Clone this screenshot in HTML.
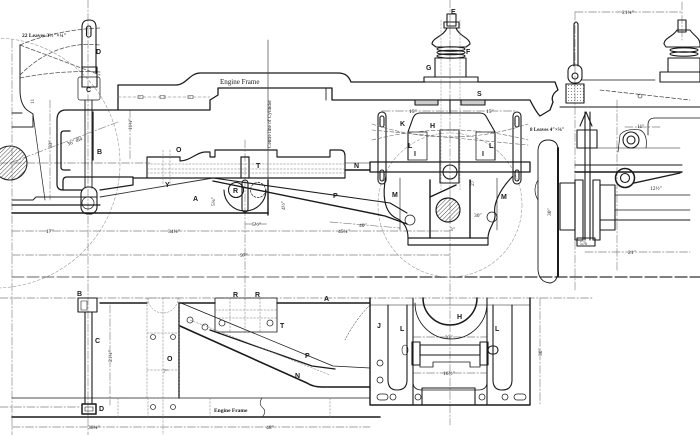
<!DOCTYPE html>
<html><head><meta charset="utf-8"><style>
html,body{margin:0;padding:0;background:#fff;}
svg{display:block}
text{font-family:"Liberation Serif",serif;fill:#1a1a1a;stroke:none}
.l{font-family:"Liberation Sans",sans-serif;font-weight:bold;font-size:7px}
.d{font-size:5.5px}
</style></head><body>
<svg width="700" height="435" viewBox="0 0 700 435" xmlns="http://www.w3.org/2000/svg">
<defs>
<pattern id="h" width="3" height="3" patternUnits="userSpaceOnUse" patternTransform="rotate(45)"><line x1="0" y1="0" x2="0" y2="3" stroke="#333" stroke-width="0.9"/></pattern>
<pattern id="dt" width="3" height="3" patternUnits="userSpaceOnUse"><circle cx="1.5" cy="1.5" r="0.55" fill="#666"/></pattern>
</defs>
<rect width="700" height="435" fill="#fff"/>
<g fill="none" stroke-linecap="round" stroke-linejoin="round">
<!-- centre / dimension lines -->
<g stroke="#808080" stroke-width="0.65" stroke-dasharray="8 2 1.5 2">
 <line x1="88" y1="0" x2="88" y2="435"/>
 <line x1="12" y1="40" x2="12" y2="435"/>
 <line x1="450" y1="0" x2="450" y2="425"/>
 <line x1="245" y1="140" x2="245" y2="300"/>
 <line x1="575" y1="12" x2="575" y2="290"/>
 <line x1="617" y1="100" x2="617" y2="270"/>
 <line x1="0" y1="163" x2="150" y2="163"/>
 <line x1="0" y1="298" x2="592" y2="298"/>
 <line x1="12" y1="231" x2="450" y2="231"/>
 <line x1="12" y1="255" x2="450" y2="255"/>
 <line x1="12" y1="427" x2="370" y2="427"/>
 <line x1="575" y1="12" x2="682" y2="12"/>
 <line x1="585" y1="252" x2="690" y2="252"/>
 <line x1="0" y1="407" x2="80" y2="407"/>
 <line x1="245" y1="224" x2="268" y2="224"/>
 <line x1="50" y1="100" x2="50" y2="200"/>
 <line x1="130" y1="110" x2="130" y2="160"/>
 <line x1="110" y1="305" x2="110" y2="405"/>
 <line x1="540" y1="298" x2="540" y2="405"/>
 <line x1="682" y1="2" x2="682" y2="40"/>
 <line x1="382" y1="111" x2="517" y2="111"/>
 <line x1="10" y1="163" x2="118" y2="122"/>
 <line x1="625" y1="127" x2="660" y2="127"/>
 <line x1="413" y1="337" x2="487" y2="337"/>
 <line x1="413" y1="373" x2="487" y2="373"/>
 <line x1="330" y1="222" x2="400" y2="228"/>
</g>
<line x1="12" y1="277" x2="360" y2="277" stroke="#666" stroke-width="0.9" stroke-dasharray="12 3"/>
<line x1="360" y1="277" x2="700" y2="277" stroke="#333" stroke-width="1.2" stroke-dasharray="12 3"/>
<circle cx="-5" cy="163" r="125" stroke="#999" stroke-width="0.6" stroke-dasharray="3 2"/>
<circle cx="450" cy="205" r="72" stroke="#999" stroke-width="0.6" stroke-dasharray="3 2"/>

<!-- leaf spring left (dashed) -->
<g stroke="#555" stroke-width="0.75" stroke-dasharray="4 2">
 <path d="M20,45 Q55,30 100,28"/>
 <path d="M20,75 Q55,40 100,45"/>
 <path d="M20,45 Q60,60 100,75"/>
 <path d="M20,78 Q60,70 100,72"/>
</g>
<!-- left buffer -->
<g stroke="#222" stroke-width="1">
 <path d="M20,45 L20,90 Q20,104 27,110 L33,114 L33,127 L12,127"/>
 <path d="M12,113 L22,113"/>
 <path d="M12,200 L33,200 L36,197 L97,197"/>
 <path d="M33,114 L45,200" stroke-width="0.7"/>
</g>
<circle cx="10" cy="163" r="17" fill="url(#h)" stroke="#222" stroke-width="1.1"/>

<!-- engine frame -->
<path d="M425,82 L351,82 C349,77 346,73 338,73 L200,73 C190,73 186,85 176,85 L118,85 L118,110 L210,110 L210,100 L218,95 L218,88 L332,88 L332,100 L530,100 C533,106 536,112 540,116 L550,110 L553,102 C551,98 553,93 558,90 L555,82 L478,82" stroke="#1a1a1a" stroke-width="1.3"/>
<line x1="326" y1="88" x2="326" y2="100" stroke="#222" stroke-width="0.9"/>
<line x1="118" y1="97" x2="210" y2="97" stroke="#777" stroke-width="0.6" stroke-dasharray="3 2"/>
<g stroke="#444" stroke-width="0.6"><rect x="138" y="95.5" width="5" height="3"/><rect x="160" y="95.5" width="5" height="3"/><rect x="188" y="95.5" width="5" height="3"/></g>

<!-- bracket B -->
<g stroke="#1a1a1a" stroke-width="1.25">
 <path d="M118,110 L66,110 Q57,110 57,120 L57,184 Q57,190 63,190 L82,190"/>
 <path d="M70,131 L64,131 Q61,131 61,134 L61,167 Q61,170 64,170 L70,170"/>
 <line x1="93" y1="112" x2="93" y2="160"/>
 <path d="M63,190 L63,181 Q63,177 67,177 L133,177 L133,185 L100,190"/>
 <line x1="12" y1="213" x2="268" y2="213" stroke-width="1.6"/>
 <line x1="12" y1="205" x2="100" y2="205"/>
</g>
<line x1="100" y1="197" x2="213" y2="178" stroke="#333" stroke-width="0.9"/>
<!-- hanger C/D -->
<g stroke="#1a1a1a" stroke-width="1.1">
 <path d="M82,73 L82,27 Q82,20 89,20 Q96,20 96,27 L96,73"/>
 <rect x="86.5" y="26" width="4.5" height="11" rx="2"/>
 <rect x="82" y="67" width="15" height="20"/>
 <rect x="78" y="77" width="22" height="23" rx="2" stroke-width="0.7"/>
 <line x1="85" y1="100" x2="85" y2="188" stroke-width="0.9"/>
 <line x1="92" y1="100" x2="92" y2="188" stroke-width="0.9"/>
 <rect x="81" y="187" width="16" height="27" rx="7"/>
 <circle cx="88" cy="203" r="6" stroke-width="0.7"/>
</g>

<!-- beam O/T -->
<g stroke="#1a1a1a" stroke-width="1.15">
 <path d="M147,178 L147,157 L180,157 L180,161 C190,161 197,152 205,152 L210,152 L210,157 L215,157 L215,150 L277,150 L277,157 L330,157 L330,150 L340,150 Q345,150 345,156 L345,178"/>
 <line x1="133" y1="178" x2="345" y2="178"/>
 <line x1="241" y1="157" x2="241" y2="178"/>
 <line x1="249" y1="157" x2="249" y2="178"/>
 <line x1="241" y1="157" x2="249" y2="157"/>
</g>
<g stroke="#777" stroke-width="0.5" stroke-dasharray="2 1.5">
 <line x1="147" y1="164" x2="345" y2="164"/><line x1="147" y1="169" x2="345" y2="169"/><line x1="147" y1="173" x2="345" y2="173"/>
 <line x1="163" y1="150" x2="163" y2="185"/><line x1="170" y1="150" x2="170" y2="185"/>
</g>
<line x1="268" y1="40" x2="268" y2="215" stroke="#444" stroke-width="0.7"/>
<!-- wheel R -->
<g stroke="#1a1a1a" stroke-width="1.1">
 <path d="M224,190 A21,21 0 0 0 266,190"/>
 <line x1="268" y1="180" x2="268" y2="215" stroke-width="1.4"/>
 <circle cx="236" cy="190" r="7.5"/>
 <circle cx="258" cy="190" r="7.5" stroke-dasharray="2 1.5" stroke-width="0.7"/>
 <rect x="242" y="180" width="6" height="32" rx="3"/>
</g>
<!-- P -->
<g stroke="#1a1a1a" stroke-width="1.1">
 <path d="M213,178 L390,203 L407,213"/>
 <path d="M213,181 L385,216 L407,224" stroke-width="1.4"/>
 <path d="M345,170 L370,170" stroke-width="1.4"/>
 <path d="M345,163 L370,163" stroke-width="0.6"/>
</g>

<!-- spring E F G -->
<g stroke="#1a1a1a" stroke-width="1.1">
 <rect x="447" y="14" width="9" height="12"/>
 <rect x="444" y="22" width="15" height="6"/>
 <path d="M432,44 C432,38 444,36 447,28 L456,28 C459,36 470,38 470,44 L466,47 L436,47 Z"/>
 <ellipse cx="451" cy="49" rx="14" ry="2.2"/>
 <ellipse cx="451" cy="52.5" rx="14" ry="2.2"/>
 <ellipse cx="451" cy="56" rx="14" ry="2.2"/>
 <rect x="435" y="58" width="31" height="19"/>
 <rect x="424" y="77" width="54" height="5"/>
 <rect x="415" y="100" width="23" height="5" fill="#ccc"/>
 <rect x="461" y="100" width="24" height="5" fill="#ccc"/>
 <line x1="450" y1="100" x2="450" y2="113"/>
</g>
<g stroke="#888" stroke-width="0.5" stroke-dasharray="2 1.5"><line x1="441" y1="20" x2="441" y2="190"/><line x1="460" y1="20" x2="460" y2="190"/></g>

<!-- axlebox H, hangers -->
<g stroke="#1a1a1a" stroke-width="1.1">
 <path d="M408,160 L408,132 L413,118 Q415,113 420,113 L480,113 Q485,113 487,118 L495,132 L495,160"/>
 <rect x="408" y="132" width="19" height="28" stroke-width="0.75"/>
 <rect x="476" y="132" width="19" height="28" stroke-width="0.75"/>
 <rect x="440" y="130" width="19" height="53"/>
 <circle cx="450" cy="172" r="7"/>
 <rect x="378" y="112" width="8" height="72" rx="4"/>
 <rect x="380" y="116" width="4" height="11" rx="2"/>
 <rect x="380" y="170" width="4" height="11" rx="2"/>
 <rect x="513" y="112" width="8" height="72" rx="4"/>
 <rect x="515" y="116" width="4" height="11" rx="2"/>
 <rect x="515" y="170" width="4" height="11" rx="2"/>
 <rect x="370" y="162" width="160" height="10" stroke-width="1.3"/>
</g>
<g stroke="#666" stroke-width="0.6" stroke-dasharray="4 2">
 <path d="M372,124 Q450,150 528,124"/><path d="M372,140 Q450,120 528,140"/><path d="M372,130 L528,145"/>
</g>
<!-- horn plates M -->
<g stroke="#1a1a1a" stroke-width="1.15">
 <path d="M386,176 C382,195 384,212 396,218 C405,222 408,230 408,238"/>
 <path d="M513,176 C499,190 493,205 495,214 C496,222 488,228 488,238"/>
 <rect x="408" y="238" width="80" height="7"/>
 <line x1="430" y1="180" x2="430" y2="238" stroke-width="1.4"/>
 <line x1="470" y1="180" x2="470" y2="238" stroke-width="1.4"/>
 <line x1="430" y1="197" x2="456" y2="185" stroke-width="1.4"/>
 <line x1="400" y1="178" x2="400" y2="230" stroke-width="0.6"/>
 <line x1="497" y1="178" x2="497" y2="230" stroke-width="0.6"/>
 <circle cx="448" cy="210" r="12" fill="url(#h)"/>
 <circle cx="410" cy="220" r="5" stroke-width="0.75"/>
 <circle cx="492" cy="217" r="5" stroke-width="0.75"/>
</g>

<!-- right end view -->
<g stroke="#1a1a1a" stroke-width="1.1">
 <line x1="574" y1="24" x2="574" y2="66"/><line x1="578" y1="24" x2="578" y2="66"/>
 <path d="M574,24 Q576,20 578,24"/>
 <rect x="568" y="65" width="14" height="18" rx="6"/>
 <circle cx="575" cy="76" r="3"/>
 <rect x="566" y="84" width="18" height="19" fill="url(#dt)"/>
 <line x1="582" y1="80" x2="655" y2="80" stroke-width="0.7"/>
 <line x1="560" y1="107" x2="700" y2="107"/>
 <path d="M548,140 Q539,140 538,150 L538,270 Q539,282 550,283 Q558,282 558,270 L558,150 Q558,140 548,140" stroke-width="0.9"/>
 <path d="M538,180 Q532,190 538,200" stroke-width="0.7"/>
 <line x1="558" y1="148" x2="558" y2="276" stroke-width="2"/>
 <rect x="560" y="183" width="15" height="47"/>
 <path d="M580,126 L586,112 L592,126" />
 <rect x="577" y="130" width="20" height="18"/>
 <line x1="585" y1="112" x2="585" y2="240"/><line x1="590" y1="112" x2="590" y2="240"/>
 <rect x="575" y="180" width="8" height="60"/>
 <rect x="593" y="180" width="7" height="60"/>
 <rect x="600" y="185" width="15" height="45"/>
 <rect x="577" y="238" width="18" height="8"/>
 <line x1="575" y1="165" x2="682" y2="165"/>
 <line x1="575" y1="172" x2="682" y2="172" stroke-width="1.4"/>
 <line x1="593" y1="148" x2="680" y2="148" stroke-width="0.6"/>
 <circle cx="631" cy="140" r="8"/><circle cx="631" cy="140" r="4"/>
 <path d="M618,152 L620,135 Q625,128 640,130 Q648,134 646,148" stroke-width="0.7"/>
 <circle cx="625" cy="178" r="9.5" stroke-width="1.5"/><circle cx="625" cy="178" r="4.5"/>
 <line x1="634" y1="183" x2="680" y2="173" stroke-width="1.4"/>
 <line x1="615" y1="195" x2="690" y2="195" stroke-width="0.7"/>
 <line x1="615" y1="210" x2="690" y2="210" stroke-width="0.7"/>
 <line x1="600" y1="220" x2="690" y2="220" stroke-width="0.9"/>
 <path d="M700,118 L655,118 Q648,118 648,125 L648,135" stroke-width="0.8"/>
 <path d="M600,90 L690,100" stroke-dasharray="4 2" stroke-width="0.6"/>
 <circle cx="640" cy="96" r="2" stroke-width="0.6"/>
 <!-- right spring -->
 <rect x="678" y="20" width="8" height="12"/>
 <path d="M664,44 C664,38 674,36 677,30 L690,30 C694,36 700,38 700,44 L700,47 L666,47 Z"/>
 <ellipse cx="684" cy="50" rx="14" ry="2.2"/><ellipse cx="684" cy="54" rx="14" ry="2.2"/>
 <rect x="668" y="58" width="32" height="14"/>
 <rect x="660" y="72" width="40" height="10"/>
</g>

<!-- BOTTOM PLAN VIEW -->
<g stroke="#1a1a1a" stroke-width="1.1">
 <line x1="100" y1="303" x2="147" y2="303" stroke-width="1.4"/>
 <line x1="179" y1="303" x2="215" y2="303" stroke-width="1.4"/>
 <line x1="277" y1="303" x2="370" y2="303" stroke-width="1.4"/>
 <rect x="78" y="298" width="19" height="14"/>
 <rect x="81" y="301" width="6" height="9" stroke-width="0.6"/>
 <line x1="85" y1="312" x2="85" y2="404"/><line x1="92" y1="312" x2="92" y2="404"/>
 <rect x="82" y="404" width="14" height="10" stroke-width="1.5"/>
 <rect x="85" y="407" width="8" height="4" stroke-width="0.6"/>
 <line x1="179" y1="303" x2="179" y2="398" stroke-width="1.4"/>
 <path d="M180,326 L307,383 Q313,387 322,387 L370,387" stroke-width="1.6"/>
 <path d="M181,303 L333,366 L370,368" stroke-width="0.75"/>
 <path d="M210,330 L312,366 L335,369" stroke-width="1.3"/>
 <rect x="215" y="298" width="62" height="34" stroke-width="0.85"/>
 <line x1="12" y1="398" x2="370" y2="398" stroke-width="0.75"/>
 <line x1="12" y1="417" x2="380" y2="417" stroke-width="1.6"/>
</g>
<g stroke="#777" stroke-width="0.5" stroke-dasharray="2 1.5">
 <rect x="147" y="298" width="32" height="100"/>
 <line x1="163" y1="298" x2="163" y2="435"/>
 <line x1="147" y1="333" x2="179" y2="333"/><line x1="147" y1="370" x2="179" y2="370"/>
 <path d="M148,298 A15,15 0 0 0 178,298"/>
 <line x1="215" y1="310" x2="277" y2="310"/><line x1="215" y1="318" x2="277" y2="318"/>
 <line x1="230" y1="298" x2="230" y2="332"/><line x1="245" y1="298" x2="245" y2="332"/><line x1="260" y1="298" x2="260" y2="332"/>
 <line x1="118" y1="398" x2="118" y2="417"/><line x1="148" y1="398" x2="148" y2="417"/><line x1="210" y1="398" x2="210" y2="417"/><line x1="330" y1="398" x2="330" y2="417"/>
 <line x1="190" y1="320" x2="330" y2="375"/>
</g>
<path d="M262,398 Q258,404 263,408 Q267,412 262,417" stroke="#333" stroke-width="0.7"/>
<g stroke="#333" stroke-width="0.8">
 <circle cx="153" cy="337" r="2.5"/><circle cx="173" cy="337" r="2.5"/>
 <circle cx="153" cy="407" r="2.5"/><circle cx="173" cy="407" r="2.5"/>
 <circle cx="190" cy="320" r="3"/><circle cx="205" cy="327" r="3"/><circle cx="222" cy="323" r="3"/><circle cx="270" cy="323" r="3"/>
</g>

<!-- bottom right box -->
<g stroke="#1a1a1a" stroke-width="1.1">
 <path d="M370,298 L370,405 L530,405 L530,298" stroke-width="1.4"/>
 <line x1="370" y1="305" x2="530" y2="305" stroke-width="0.6"/>
 <path d="M388,305 L388,380 Q388,390 397,390 Q407,390 407,380 L407,305"/>
 <path d="M493,305 L493,380 Q493,390 502,390 Q512,390 512,380 L512,305"/>
 <line x1="413" y1="298" x2="413" y2="405"/>
 <line x1="487" y1="298" x2="487" y2="405"/>
 <path d="M415,303 A35,35 0 0 0 487,303" stroke-width="0.85"/>
 <path d="M423,298 A27,27 0 0 0 477,298" stroke-width="1.5"/>
 <rect x="412" y="342" width="8" height="23"/>
 <rect x="480" y="342" width="8" height="23"/>
 <rect x="420" y="345" width="60" height="10"/>
 <rect x="488" y="346" width="10" height="8" rx="4"/>
 <ellipse cx="405" cy="350" rx="3" ry="5" stroke-width="0.6"/>
 <path d="M420,357 L420,367 L433,367 L433,362 L470,362 L470,367 L480,367 L480,357" stroke-width="0.85"/>
 <path d="M413,372 L413,382 Q413,390 422,390 L478,390 Q487,390 487,382 L487,372" stroke-width="0.85"/>
 <rect x="422" y="388" width="53" height="17"/>
 <circle cx="380" cy="363" r="3" stroke-width="0.75"/><circle cx="380" cy="380" r="3" stroke-width="0.75"/>
 <circle cx="393" cy="397" r="3" stroke-width="0.75"/><circle cx="418" cy="397" r="3" stroke-width="0.75"/>
 <circle cx="482" cy="397" r="3" stroke-width="0.75"/><circle cx="505" cy="397" r="3" stroke-width="0.75"/>
 <rect x="377" y="394" width="11" height="6" rx="3" stroke-width="0.75"/>
 <rect x="514" y="394" width="12" height="6" rx="3" stroke-width="0.75"/>
 <path d="M370,305 Q355,320 345,340" stroke-width="0.5" stroke-dasharray="2 1.5"/>
</g>
</g>

<!-- TEXT -->
<text x="22" y="37" font-size="5.5" font-weight="bold">22 Leaves 3½″×¼″</text>
<text class="l" x="96" y="54">D</text>
<text class="l" x="86" y="92">C</text>
<text class="l" x="97" y="154">B</text>
<text class="d" transform="translate(34,104) rotate(-90)">11</text>
<text class="d" transform="translate(52,148) rotate(-90)">33″</text>
<text class="d" transform="translate(68,146) rotate(-24)">36″ dia</text>
<text class="d" transform="translate(132,130) rotate(-90)">11¾″</text>
<text x="220" y="84" font-size="7">Engine Frame</text>
<text class="l" x="176" y="152">O</text>
<text class="l" x="256" y="168">T</text>
<text class="l" x="165" y="187">Y</text>
<text class="l" x="193" y="201">A</text>
<text class="l" x="233" y="193" font-size="6">R</text>
<text class="l" x="333" y="198">P</text>
<text class="l" x="354" y="168">N</text>
<text x="0" y="0" font-size="5.2" transform="translate(271,148) rotate(-90)">Centre line of Cylinder</text>
<text class="d" transform="translate(215,206) rotate(-90)">5¾″</text>
<text class="d" transform="translate(285,210) rotate(-90)">4½″</text>
<text class="d" x="252" y="226">5½″</text>
<text class="d" x="46" y="233">17″</text>
<text class="d" x="168" y="233">34¼″</text>
<text class="d" x="338" y="233">45¾″</text>
<text class="d" x="359" y="227">40″</text>
<text class="d" x="240" y="257">97″</text>
<text class="l" x="451" y="14">E</text>
<text class="l" x="466" y="54">F</text>
<text class="l" x="426" y="70">G</text>
<text class="l" x="477" y="96">S</text>
<text class="l" x="400" y="126">K</text>
<text class="l" x="430" y="128">H</text>
<text class="l" x="414" y="156">I</text>
<text class="l" x="482" y="156">I</text>
<text class="l" x="408" y="148" font-size="6">L</text>
<text class="l" x="489" y="148" font-size="6">L</text>
<text class="d" x="409" y="113">15″</text>
<text class="d" x="486" y="113">15″</text>
<text x="530" y="131" font-size="5" font-weight="bold">8 Leaves 4″×⅝″</text>
<text class="l" x="392" y="197">M</text>
<text class="l" x="501" y="199">M</text>
<text class="d" x="474" y="217">30″</text>
<text class="d" x="450" y="231">3″</text>
<text class="d" transform="translate(474,186) rotate(-90)">27</text>
<text class="d" x="622" y="14">21¾″</text>
<text class="d" x="637" y="128">11″</text>
<text class="d" x="650" y="190">12½″</text>
<text class="d" transform="translate(551,216) rotate(-90)">30″</text>
<text class="d" x="580" y="245">5⅞</text>
<text class="d" x="628" y="254">21″</text>

<text class="l" x="77" y="296">B</text>
<text class="l" x="95" y="343">C</text>
<text class="l" x="99" y="411">D</text>
<text class="d" transform="translate(112,362) rotate(-90)">21¾″</text>
<text class="l" x="167" y="361">O</text>
<text class="d" x="163" y="373">7″</text>
<text class="l" x="233" y="297">R</text>
<text class="l" x="255" y="297">R</text>
<text class="l" x="280" y="328">T</text>
<text class="l" x="324" y="301">A</text>
<text class="l" x="305" y="358">P</text>
<text class="l" x="295" y="378">N</text>
<text x="214" y="412" font-size="5.5" font-weight="bold">Engine Frame</text>
<text class="d" x="88" y="429">38¾″</text>
<text class="d" x="266" y="429">48″</text>
<text class="l" x="377" y="328">J</text>
<text class="l" x="400" y="331">L</text>
<text class="l" x="495" y="331">L</text>
<text class="l" x="457" y="319">H</text>
<text class="d" x="445" y="339">33″</text>
<text class="d" x="443" y="375">16½″</text>
<text class="d" transform="translate(542,356) rotate(-90)">30″</text>
</svg>
</body></html>
